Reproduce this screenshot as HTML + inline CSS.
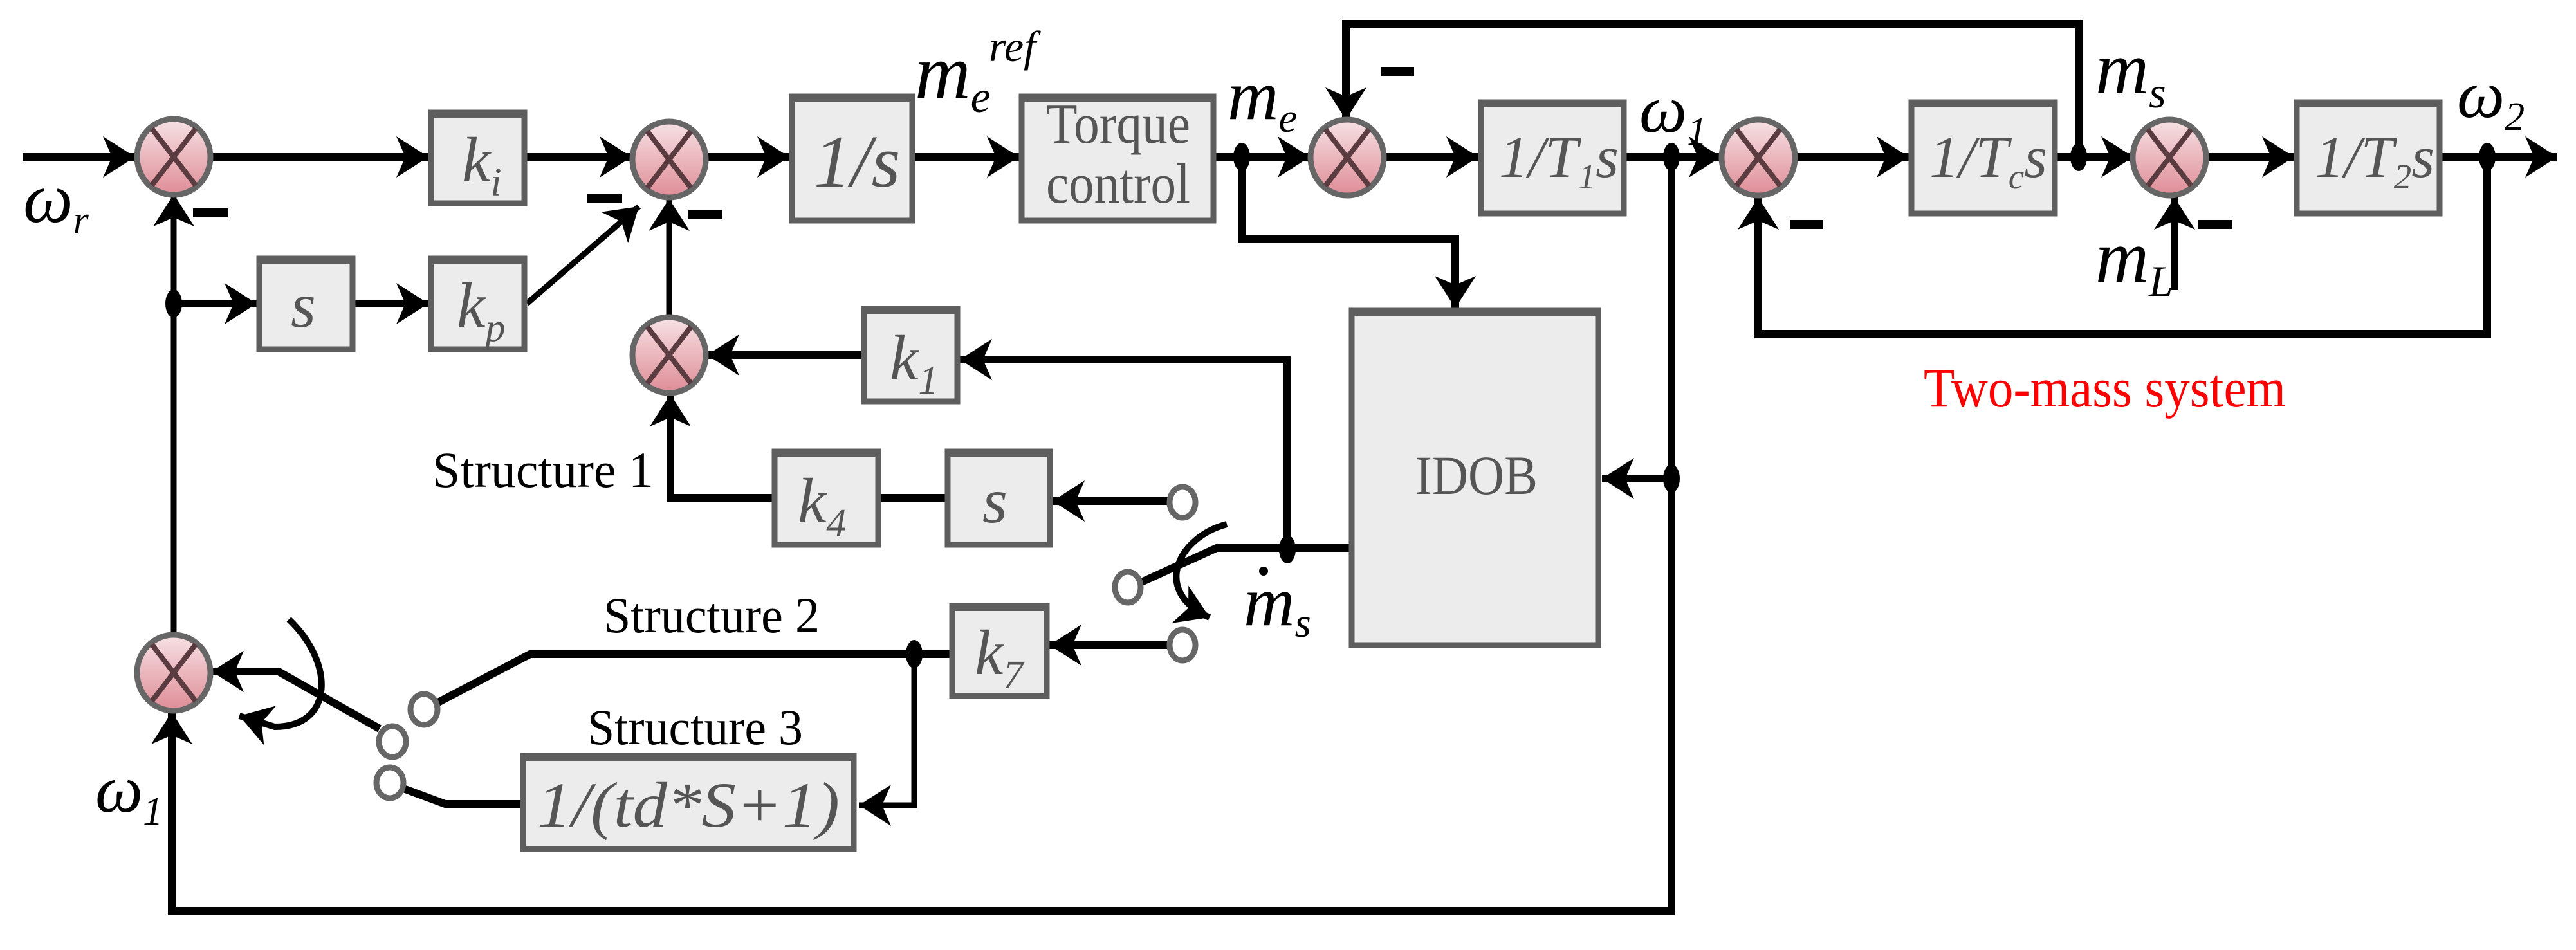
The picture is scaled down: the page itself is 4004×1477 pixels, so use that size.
<!DOCTYPE html>
<html><head><meta charset="utf-8"><style>
html,body{margin:0;padding:0;background:#fff;}
svg{display:block;}
</style></head><body>
<svg width="4004" height="1477" viewBox="0 0 4004 1477" xmlns="http://www.w3.org/2000/svg" font-family="'Liberation Serif', serif">
<defs>
<marker id="a" markerUnits="userSpaceOnUse" markerWidth="60" markerHeight="80" refX="0" refY="0" viewBox="-50 -40 60 80" orient="auto">
<path d="M0,0 L-50,-32 L-36,0 L-50,32 Z" fill="#000"/>
</marker>
<linearGradient id="g" x1="0" y1="0" x2="0" y2="1">
<stop offset="0" stop-color="#f6e2e5"/><stop offset="1" stop-color="#df8c96"/>
</linearGradient>
<g id="sum">
<ellipse cx="0" cy="0" rx="57" ry="59" fill="url(#g)" stroke="#666" stroke-width="9"/>
<path d="M-34,-44 L34,44 M34,-44 L-34,44" stroke="#5a3c40" stroke-width="8"/>
</g>
</defs>

<g fill="none" stroke="#000" stroke-width="12">
<path d="M36 244 H210" marker-end="url(#a)"/>
<path d="M329 244 H666" marker-end="url(#a)"/>
<path d="M819 244 H982" marker-end="url(#a)"/>
<path d="M1097 244 H1227" marker-end="url(#a)"/>
<path d="M1422 244 H1584" marker-end="url(#a)"/>
<path d="M1890 244 H2036" marker-end="url(#a)"/>
<path d="M1930 244 V372 H2262 V479" marker-end="url(#a)"/>
<path d="M3231 244 V37 H2092 V186" marker-end="url(#a)"/>
<path d="M2153 244 H2298" marker-end="url(#a)"/>
<path d="M2528 244 H2675" marker-end="url(#a)"/>
<path d="M2792 244 H2967" marker-end="url(#a)"/>
<path d="M3198 244 H3316" marker-end="url(#a)"/>
<path d="M3429 244 H3566" marker-end="url(#a)"/>
<path d="M3796 244 H3975" marker-end="url(#a)"/>
<path d="M3866 244 V519 H2733 V307" marker-end="url(#a)"/>
<path d="M3380 451 V307" marker-end="url(#a)"/>
<path d="M2598 244 V1416 H267 V1107" marker-end="url(#a)"/>
<path d="M2598 744 H2490" marker-end="url(#a)"/>
<path d="M270 985 V302" stroke-width="9" marker-end="url(#a)"/>
<path d="M270 472 H399" marker-end="url(#a)"/>
<path d="M552 472 H666" marker-end="url(#a)"/>
<path d="M819 472 L993 321" stroke-width="9" marker-end="url(#a)"/>
<path d="M1040 491 V309" stroke-width="9" marker-end="url(#a)"/>
<path d="M1339 552 H1099" marker-end="url(#a)"/>
<path d="M2001 854 V559 H1492" marker-end="url(#a)"/>
<path d="M1200 774 H1042 V613" marker-end="url(#a)"/>
<path d="M1369 774 H1469"/>
<path d="M1816 779 H1636" marker-end="url(#a)"/>
<path d="M1772 906 L1891 852 H2097"/>
<path d="M1907 815 C1830 835 1790 920 1880 960" stroke-width="10" marker-end="url(#a)"/>
<path d="M1816 1003 H1631" marker-end="url(#a)"/>
<path d="M1476 1017 H824 L679 1093"/>
<path d="M1421 1017 V1252 H1335" stroke-width="9" marker-end="url(#a)"/>
<path d="M809 1250 H692 L619 1223"/>
<path d="M590 1133 L433 1044 H329" marker-end="url(#a)"/>
<path d="M449 963 C520 1030 520 1130 427 1130 L372 1113" stroke-width="10" marker-end="url(#a)"/>
</g>

<g fill="#000">
<ellipse cx="270" cy="472" rx="13" ry="22"/>
<ellipse cx="1930" cy="244" rx="13" ry="22"/>
<ellipse cx="2598" cy="244" rx="13" ry="22"/>
<ellipse cx="3231" cy="244" rx="13" ry="22"/>
<ellipse cx="3866" cy="244" rx="13" ry="22"/>
<ellipse cx="2598" cy="744" rx="13" ry="22"/>
<ellipse cx="2001" cy="854" rx="13" ry="22"/>
<ellipse cx="1421" cy="1017" rx="13" ry="22"/>
<circle cx="1964" cy="888" r="7"/>
<rect x="300" y="323" width="55" height="14"/>
<rect x="912" y="302" width="55" height="14"/>
<rect x="1069" y="326" width="53" height="14"/>
<rect x="2147" y="104" width="51" height="14"/>
<rect x="2782" y="342" width="51" height="14"/>
<rect x="3416" y="342" width="54" height="14"/>
</g>

<use href="#sum" x="270" y="244"/>
<use href="#sum" x="1040" y="248"/>
<use href="#sum" x="1040" y="552"/>
<use href="#sum" x="270" y="1046"/>
<use href="#sum" x="2094" y="245"/>
<use href="#sum" x="2733" y="245"/>
<use href="#sum" x="3372" y="245"/>

<g fill="#ececec" stroke="#5e5e5e" stroke-width="9">
<rect x="670" y="175" width="145" height="141"/>
<rect x="1231" y="150" width="187" height="193"/>
<rect x="1588" y="150" width="298" height="193"/>
<rect x="403" y="402" width="145" height="141"/>
<rect x="670" y="402" width="145" height="141"/>
<rect x="1343" y="480" width="145" height="144"/>
<rect x="1204" y="702" width="161" height="145"/>
<rect x="1473" y="702" width="159" height="145"/>
<rect x="1480" y="942" width="147" height="140"/>
<rect x="813" y="1175" width="514" height="145"/>
<rect x="2101" y="483" width="383" height="520"/>
<rect x="2302" y="159" width="222" height="173"/>
<rect x="2971" y="159" width="223" height="173"/>
<rect x="3570" y="159" width="222" height="173"/>
</g>
<g fill="#5e5e5e">
<rect x="666" y="171" width="153" height="12"/>
<rect x="1227" y="146" width="195" height="12"/>
<rect x="1584" y="146" width="306" height="12"/>
<rect x="399" y="398" width="153" height="12"/>
<rect x="666" y="398" width="153" height="12"/>
<rect x="1339" y="476" width="153" height="12"/>
<rect x="1200" y="698" width="169" height="12"/>
<rect x="1469" y="698" width="167" height="12"/>
<rect x="1476" y="938" width="155" height="12"/>
<rect x="809" y="1171" width="522" height="12"/>
<rect x="2097" y="479" width="391" height="12"/>
<rect x="2298" y="155" width="230" height="12"/>
<rect x="2967" y="155" width="231" height="12"/>
<rect x="3566" y="155" width="230" height="12"/>
</g>

<g fill="#fff" stroke="#666" stroke-width="9">
<ellipse cx="1838" cy="781" rx="20" ry="24"/>
<ellipse cx="1753" cy="913" rx="20" ry="24"/>
<ellipse cx="1838" cy="1003" rx="20" ry="24"/>
<ellipse cx="659" cy="1103" rx="21" ry="24"/>
<ellipse cx="610" cy="1153" rx="21" ry="24"/>
<ellipse cx="606" cy="1217" rx="21" ry="24"/>
</g>

<g font-family="'Liberation Serif', serif" font-style="italic" fill="#555">
<text x="718" y="282" font-size="100">k<tspan font-size="62" dy="22">i</tspan></text>
<text x="1265" y="290" font-size="115">1/s</text>
<text x="452" y="508" font-size="100">s</text>
<text x="710" y="508" font-size="100">k<tspan font-size="62" dy="22">p</tspan></text>
<text x="1383" y="590" font-size="100">k<tspan font-size="62" dy="22">1</tspan></text>
<text x="1240" y="812" font-size="100">k<tspan font-size="62" dy="22">4</tspan></text>
<text x="1527" y="812" font-size="100">s</text>
<text x="1515" y="1048" font-size="100">k<tspan font-size="62" dy="22">7</tspan></text>
<text x="835" y="1285" font-size="100" textLength="470" lengthAdjust="spacingAndGlyphs">1/(td*S+1)</text>
<text x="2330" y="275" font-size="92">1/T<tspan font-size="55" dy="18">1</tspan><tspan dy="-18">s</tspan></text>
<text x="2999" y="275" font-size="92">1/T<tspan font-size="55" dy="18">c</tspan><tspan dy="-18">s</tspan></text>
<text x="3598" y="275" font-size="92">1/T<tspan font-size="55" dy="18">2</tspan><tspan dy="-18">s</tspan></text>
</g>
<g font-family="'Liberation Serif', serif" fill="#555">
<text x="1626" y="222" font-size="88" textLength="224" lengthAdjust="spacingAndGlyphs">Torque</text>
<text x="1626" y="315" font-size="88" textLength="224" lengthAdjust="spacingAndGlyphs">control</text>
<text x="2200" y="768" font-size="86" textLength="190" lengthAdjust="spacingAndGlyphs">IDOB</text>
</g>

<g font-family="'Liberation Serif', serif" font-style="italic" fill="#000">
<text x="36" y="345" font-size="110">ω<tspan font-size="62" dy="18">r</tspan></text>
<text x="1422" y="152" font-size="120">m<tspan font-size="70" dy="22">e</tspan></text>
<text x="1537" y="95" font-size="68">ref</text>
<text x="1908" y="185" font-size="110">m<tspan font-size="65" dy="20">e</tspan></text>
<text x="2548" y="205" font-size="105">ω<tspan font-size="62" dy="20">1</tspan></text>
<text x="3257" y="145" font-size="115">m<tspan font-size="68" dy="22">s</tspan></text>
<text x="3819" y="182" font-size="105">ω<tspan font-size="62" dy="20">2</tspan></text>
<text x="3257" y="438" font-size="115">m<tspan font-size="68" dy="22">L</tspan></text>
<text x="1933" y="972" font-size="110">m<tspan font-size="65" dy="18">s</tspan></text>
<text x="148" y="1262" font-size="105">ω<tspan font-size="62" dy="20">1</tspan></text>
</g>
<g font-family="'Liberation Serif', serif" fill="#000" font-size="78">
<text x="672" y="757" textLength="344" lengthAdjust="spacingAndGlyphs">Structure 1</text>
<text x="938" y="983" textLength="336" lengthAdjust="spacingAndGlyphs">Structure 2</text>
<text x="913" y="1157" textLength="335" lengthAdjust="spacingAndGlyphs">Structure 3</text>
</g>
<text font-family="'Liberation Serif', serif" x="2990" y="632" font-size="86" fill="#ff0000" textLength="563" lengthAdjust="spacingAndGlyphs">Two-mass system</text>
</svg>
</body></html>
